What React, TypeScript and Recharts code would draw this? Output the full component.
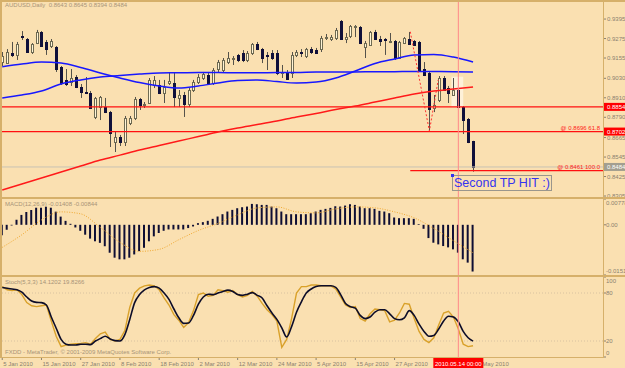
import { ComposedChart, Bar, Line, XAxis, YAxis, ReferenceLine, ReferenceArea } from 'recharts'

// AUDUSD daily, 5 Jan 2010 .. 19 May 2010 (bar index 0..96)
const opens = [
  0.9130, 0.9124, 0.9186, 0.9174, 0.9291, 0.9272, 0.9192, 0.9247, 0.9315, 0.9254,
  0.9229, 0.9223, 0.9100, 0.9020, 0.9007, 0.9038, 0.8976, 0.8946, 0.8939, 0.8792,
  0.8853, 0.8853, 0.8822, 0.8638, 0.8668, 0.8638, 0.8755, 0.8785, 0.8903, 0.8866,
  0.8878, 0.8989, 0.8989, 0.8939, 0.9001, 0.9001, 0.8909, 0.8927, 0.8872, 0.8958,
  0.9007, 0.9032, 0.9050, 0.9001, 0.9087, 0.9081, 0.9130, 0.9155, 0.9174, 0.9186,
  0.9143, 0.9186, 0.9241, 0.9210, 0.9174, 0.9186, 0.9186, 0.9063, 0.9069, 0.9063,
  0.9174, 0.9192, 0.9167, 0.9210, 0.9204, 0.9210, 0.9278, 0.9272, 0.9278, 0.9383,
  0.9272, 0.9291, 0.9346, 0.9346, 0.9223, 0.9235, 0.9315, 0.9272, 0.9272, 0.9260,
  0.9260, 0.9155, 0.9247, 0.9272, 0.9260, 0.9254, 0.9087, 0.9063, 0.8847, 0.8896,
  0.9032, 0.8970, 0.8927, 0.8958, 0.8853, 0.8779, 0.8643,
]
const highs = [
  0.9192, 0.9210, 0.9254, 0.9254, 0.9321, 0.9278, 0.9247, 0.9328, 0.9321, 0.9266,
  0.9272, 0.9229, 0.9106, 0.9087, 0.9087, 0.9050, 0.8995, 0.9038, 0.8952, 0.8915,
  0.8921, 0.8909, 0.8829, 0.8705, 0.8681, 0.8798, 0.8798, 0.8915, 0.8909, 0.8884,
  0.9032, 0.9044, 0.9020, 0.9020, 0.9063, 0.9063, 0.8958, 0.8946, 0.8970, 0.9020,
  0.9056, 0.9069, 0.9069, 0.9093, 0.9143, 0.9155, 0.9192, 0.9167, 0.9180, 0.9204,
  0.9198, 0.9247, 0.9254, 0.9217, 0.9192, 0.9204, 0.9204, 0.9112, 0.9081, 0.9192,
  0.9204, 0.9210, 0.9217, 0.9223, 0.9217, 0.9291, 0.9303, 0.9297, 0.9340, 0.9389,
  0.9309, 0.9358, 0.9358, 0.9352, 0.9260, 0.9321, 0.9328, 0.9291, 0.9278, 0.9309,
  0.9266, 0.9260, 0.9284, 0.9315, 0.9266, 0.9260, 0.9130, 0.9075, 0.8927, 0.9044,
  0.9044, 0.8983, 0.9032, 0.8970, 0.8859, 0.8785, 0.8645,
]
const lows = [
  0.9106, 0.9118, 0.9161, 0.9143, 0.9266, 0.9186, 0.9180, 0.9241, 0.9223, 0.9174,
  0.9217, 0.9069, 0.8989, 0.8983, 0.8983, 0.8970, 0.8909, 0.8933, 0.8841, 0.8779,
  0.8773, 0.8816, 0.8607, 0.8576, 0.8613, 0.8613, 0.8742, 0.8773, 0.8835, 0.8847,
  0.8872, 0.8970, 0.8933, 0.8878, 0.8989, 0.8853, 0.8853, 0.8792, 0.8853, 0.8946,
  0.8995, 0.9020, 0.8989, 0.8989, 0.9069, 0.9069, 0.9118, 0.9112, 0.9130, 0.9130,
  0.9130, 0.9174, 0.9204, 0.9124, 0.9081, 0.9143, 0.9050, 0.9032, 0.9020, 0.9032,
  0.9161, 0.9161, 0.9155, 0.9180, 0.9180, 0.9192, 0.9266, 0.9260, 0.9266, 0.9266,
  0.9247, 0.9278, 0.9284, 0.9241, 0.9155, 0.9229, 0.9266, 0.9229, 0.9174, 0.9247,
  0.9143, 0.9149, 0.9241, 0.9235, 0.9229, 0.9075, 0.9044, 0.8711, 0.8822, 0.8884,
  0.8958, 0.8878, 0.8921, 0.8853, 0.8687, 0.8631, 0.8455,
]
const closes = [
  0.9167, 0.9192, 0.9174, 0.9241, 0.9284, 0.9192, 0.9241, 0.9315, 0.9229, 0.9210,
  0.9260, 0.9087, 0.9001, 0.8995, 0.9032, 0.8976, 0.8946, 0.8939, 0.8847, 0.8909,
  0.8915, 0.8822, 0.8693, 0.8668, 0.8638, 0.8785, 0.8785, 0.8903, 0.8866, 0.8870,
  0.9020, 0.9020, 0.8939, 0.8976, 0.9013, 0.8915, 0.8927, 0.8872, 0.8958, 0.9007,
  0.9038, 0.9056, 0.9001, 0.9081, 0.9130, 0.9143, 0.9155, 0.9158, 0.9143, 0.9143,
  0.9186, 0.9241, 0.9210, 0.9155, 0.9167, 0.9155, 0.9063, 0.9066, 0.9026, 0.9174,
  0.9192, 0.9189, 0.9210, 0.9192, 0.9186, 0.9278, 0.9284, 0.9284, 0.9328, 0.9272,
  0.9284, 0.9352, 0.9352, 0.9247, 0.9247, 0.9315, 0.9272, 0.9260, 0.9266, 0.9262,
  0.9155, 0.9254, 0.9278, 0.9241, 0.9235, 0.9081, 0.9050, 0.8841, 0.8866, 0.9032,
  0.8958, 0.8939, 0.8958, 0.8853, 0.8773, 0.8638, 0.8484,
]

// moving averages, read every 4th bar
const maBars = [0, 4, 8, 12, 16, 20, 24, 28, 32, 36, 40, 44, 48, 52, 56, 60, 64, 68, 72, 76, 80, 84, 88, 92, 96]
const maFast = [
  0.9101, 0.9118, 0.9130, 0.9124, 0.9097, 0.9063, 0.9032, 0.9004, 0.8983, 0.8970, 0.8983, 0.9001, 0.9016,
  0.9020, 0.9010, 0.9001, 0.9007, 0.9032, 0.9075, 0.9121, 0.9149, 0.9174, 0.9177, 0.9161, 0.9130,
]
const maSlow = [
  0.8909, 0.8927, 0.8952, 0.8995, 0.9020, 0.9038, 0.9047, 0.9056, 0.9063, 0.9064, 0.9066, 0.9066, 0.9064,
  0.9064, 0.9066, 0.9066, 0.9069, 0.9069, 0.9069, 0.9071, 0.9071, 0.9072, 0.9072, 0.9071, 0.9069,
]
const maLong = [
  0.8342, 0.8379, 0.8416, 0.8453, 0.8490, 0.8527, 0.8557, 0.8588, 0.8616, 0.8644, 0.8671, 0.8699, 0.8724,
  0.8745, 0.8767, 0.8792, 0.8813, 0.8838, 0.8859, 0.8884, 0.8909, 0.8933, 0.8952, 0.8964, 0.8976,
]

// zigzag
const zzBars = [83.2, 87.1, 88.9]
const zzPrices = [0.9317, 0.8705, 0.9020]

// MACD(12,26,9)
const macd = [
  -0.00318, -0.00149, -0.0002, 0.00149, 0.00298, 0.00387, 0.00446, 0.00515, 0.00515, 0.00545,
  0.00515, 0.00396, 0.00247, 0.00119, 0.0003, -0.0008, -0.0018, -0.00298, -0.00416, -0.00497,
  -0.00544, -0.00646, -0.00842, -0.00991, -0.01041, -0.01041, -0.00991, -0.00893, -0.00794, -0.00693,
  -0.00497, -0.00348, -0.00247, -0.0018, -0.0014, -0.0014, -0.0014, -0.0014, -0.00098, -0.0005,
  0.0005, 0.0008, 0.0012, 0.0018, 0.0025, 0.0032, 0.004, 0.0045, 0.005, 0.0053,
  0.0055, 0.0063, 0.0062, 0.006, 0.006, 0.0055, 0.005, 0.004, 0.0032, 0.0032,
  0.0032, 0.0032, 0.0032, 0.0035, 0.004, 0.0045, 0.0048, 0.0051, 0.0056, 0.0055,
  0.0058, 0.0062, 0.006, 0.0055, 0.005, 0.005, 0.0048, 0.0042, 0.004, 0.0035,
  0.0022, 0.002, 0.002, 0.002, 0.0018, 0.0002, -0.0012, -0.004, -0.0054, -0.0059,
  -0.0064, -0.0068, -0.0074, -0.0084, -0.0104, -0.0114, -0.01408,
]
const macdSignal = [
  -0.0068, -0.003, 0.0015, 0.0039, 0.0033, -0.0008, -0.0053, -0.008, -0.0074, -0.0045, -0.0017, 0.0004, 0.003,
  0.0051, 0.0054, 0.0039, 0.0036, 0.0048, 0.0054, 0.0051, 0.0039, 0.0021, -0.0011, -0.0048, -0.00844,
]

// Stoch(5,3,3)
const stochK = [
  88, 84, 83, 84, 78, 68, 64, 63, 64, 65,
  45, 26, 13, 15, 16, 16.5, 17, 18, 16, 23,
  29, 31, 22, 20, 22, 33, 62, 80, 86, 89,
  90, 89, 84, 74, 65, 53, 46, 37, 43, 58,
  78, 80, 76, 77, 84, 83, 81, 83, 78, 75,
  77, 82, 76, 67, 59, 53, 45, 12, 22, 48,
  80, 88, 88, 90, 90, 89, 89, 89, 85, 75,
  65, 62, 63, 48, 45, 54, 60, 59, 58, 44,
  46, 55, 67, 66, 48, 32, 22, 18, 24, 40,
  55, 57, 50, 35, 16, 13, 14.12,
]
const stochD = [
  86.9, 86, 85, 84, 81, 75, 70, 68.3, 68, 65,
  50, 36, 22, 16, 15, 15, 16, 16, 15.5, 20,
  23, 26, 22.5, 20.5, 20, 28, 47, 68, 78, 84,
  87, 88, 86, 80, 72, 60, 49, 42, 42.5, 52,
  66, 75, 78.5, 78, 80, 82, 83.6, 82, 78, 77,
  78.5, 80.5, 77, 73.7, 64, 55, 47, 36.5, 25, 38,
  56, 69, 80, 85, 88, 89, 89, 89, 87, 78,
  67, 63, 61, 52, 48, 50, 56, 59, 59, 54,
  48, 46.5, 49, 58, 52, 41, 32, 26, 27, 35,
  45, 51, 50, 44, 32, 24, 19.83,
]

// the 7 May label sits fully under the red cursor label, so it is left out
const dateBars = [0, 8, 16, 24, 32, 40, 48, 56, 64, 72, 80, 96]
const dateLabels = [
  '5 Jan 2010', '15 Jan 2010', '27 Jan 2010', '8 Feb 2010', '18 Feb 2010', '2 Mar 2010', '12 Mar 2010',
  '24 Mar 2010', '5 Apr 2010', '15 Apr 2010', '27 Apr 2010', '19 May 2010',
]
const cursorBar = 93
const cursorLabel = '2010.05.14 00:00'

const priceTicks = [0.9395, 0.9275, 0.9155, 0.903, 0.891, 0.8854, 0.879, 0.8702, 0.8665, 0.8545, 0.8484, 0.8425, 0.8305]
const redPrices = [0.8854, 0.8702]
const bidPrice = 0.8484
const fibLevels = [0.8702, 0.8461]
const macdTicks = [0.00778, 0, -0.01513]
const stochTicks = [100, 80, 20, 0]

const X_DOMAIN: [number, number] = [-0.05, 122.5]
const FONT = '"Liberation Sans", Arial, sans-serif'
const BG = '#FAE0B1'
const FRAME = '#D6B06A'
const AXIS_TEXT = '#8A8070'
const LABEL_TEXT = '#A89478'

const mainRows = opens.map((o, i) => {
  const k = maBars.indexOf(i)
  return {
    i,
    open: o,
    high: highs[i],
    low: lows[i],
    close: closes[i],
    maFast: k >= 0 ? maFast[k] : null,
    maSlow: k >= 0 ? maSlow[k] : null,
    maLong: k >= 0 ? maLong[k] : null,
  }
})
const zzRows = zzBars.map((b, k) => ({ i: b, zz: zzPrices[k] }))
const macdRows = macd.map((m, i) => {
  const k = maBars.indexOf(i)
  return { i, macd: m, signal: k >= 0 ? macdSignal[k] : null }
})
const stochRows = stochK.map((k, i) => ({ i, k, d: stochD[i] }))

function Candle(props: any) {
  const { x, y, width, height, payload } = props
  if (x == null || !payload) return null
  const { open, close, high, low } = payload
  const cx = Math.round(x + width / 2)
  const top0 = Math.min(y, y + height)
  const h = Math.abs(height)
  const per = high - low > 0 ? h / (high - low) : 0
  const yO = top0 + (high - open) * per
  const yC = top0 + (high - close) * per
  const bTop = Math.round(Math.min(yO, yC)) + 0.5
  const bH = Math.max(Math.round(Math.abs(yO - yC)), 1)
  const bull = close >= open
  return (
    <g>
      <line x1={cx + 0.5} x2={cx + 0.5} y1={top0} y2={top0 + h} stroke="#55524A" strokeWidth={1} />
      <rect
        x={cx - 0.5}
        y={bTop}
        width={2}
        height={bH}
        fill={bull ? '#FFF4D6' : '#10103A'}
        stroke={bull ? '#6E6A52' : '#10103A'}
        strokeWidth={1}
      />
    </g>
  )
}

function PriceTick(props: any) {
  const { x, y, payload } = props
  const v = payload.value as number
  const red = redPrices.includes(v)
  const bid = v === bidPrice
  return (
    <g>
      {red || bid ? (
        <rect x={x} y={y - 4} width={22} height={8} fill={red ? '#FF0000' : '#A29E90'} />
      ) : (
        <line x1={x + 1} x2={x + 3} y1={y} y2={y} stroke={AXIS_TEXT} />
      )}
      <text x={x + 4} y={y + 2} fontSize={6} fontFamily={FONT} fill={red || bid ? '#FFFFFF' : AXIS_TEXT}>
        {v.toFixed(4)}
      </text>
    </g>
  )
}

function SideTick(props: any) {
  const { x, y, payload, fmt, top, bottom } = props
  const v = payload.value as number
  const dy = v === top ? 4 : v === bottom ? -4 : 0
  return (
    <g>
      <line x1={x + 1} x2={x + 3} y1={y} y2={y} stroke={AXIS_TEXT} />
      <text x={x + 3} y={y + 2 + dy} fontSize={6} fontFamily={FONT} fill={AXIS_TEXT}>
        {fmt(v)}
      </text>
    </g>
  )
}

function DateTick(props: any) {
  const { x, y, payload } = props
  const v = payload.value as number
  if (v === cursorBar) {
    return (
      <g>
        <rect x={x - 25} y={y + 1} width={50} height={10} fill="#FF0000" />
        <text x={x} y={y + 8.5} textAnchor="middle" fontSize={6} fontFamily={FONT} fill="#FFFFFF">
          {cursorLabel}
        </text>
      </g>
    )
  }
  const label = dateLabels[dateBars.indexOf(v)]
  return (
    <g>
      <line x1={x} x2={x} y1={y} y2={y + 3} stroke={AXIS_TEXT} />
      <text x={x + 1} y={y + 8.5} fontSize={6} fontFamily={FONT} fill={AXIS_TEXT}>
        {label}
      </text>
    </g>
  )
}

function FibLabel(props: any, text: string) {
  const { viewBox } = props
  if (!viewBox) return null
  return (
    <text x={600} y={viewBox.y - 1.5} textAnchor="end" fontSize={6} fontFamily={FONT} fill="#FF2020">
      {text}
    </text>
  )
}

const cursorLine = <ReferenceLine x={cursorBar} stroke="#FF8888" strokeWidth={1} />

export default function App() {
  const textStyle = { position: 'absolute' as const, fontFamily: FONT, fontSize: 6, color: LABEL_TEXT, whiteSpace: 'nowrap' as const }
  return (
    <div style={{ position: 'absolute', left: 0, top: 0, width: 625, height: 368, background: BG, overflow: 'hidden' }}>
      <div style={{ position: 'absolute', left: 0, top: 0 }}>
        <ComposedChart width={625} height={197} data={mainRows} margin={{ top: 2, right: 0, bottom: 0, left: 2 }}>
          <XAxis dataKey="i" type="number" domain={X_DOMAIN} hide allowDataOverflow />
          <YAxis
            orientation="right"
            width={22}
            domain={[0.8299, 0.95]}
            allowDataOverflow
            ticks={priceTicks}
            interval={0}
            tickSize={0}
            tickMargin={0}
            axisLine={false}
            tickLine={false}
            tick={(p: any) => <PriceTick {...p} />}
          />
          <ReferenceArea x1={91.6} x2={94} y1={0.8855} y2={0.904} fill="#FFF8EA" fillOpacity={0.7} stroke="none" />
          <ReferenceLine y={bidPrice} stroke="#C8C2B4" strokeWidth={1} />
          <ReferenceLine y={redPrices[0]} stroke="#FF1010" strokeWidth={1.2} />
          <ReferenceLine
            y={redPrices[1]}
            stroke="#FF1010"
            strokeWidth={1.2}
            label={(p: any) => FibLabel(p, '@ 0.8696 61.8')}
          />
          <ReferenceLine
            segment={[{ x: 83.2, y: fibLevels[1] }, { x: 122.5, y: fibLevels[1] }]}
            stroke="#FF1010"
            strokeWidth={1.2}
            label={(p: any) => FibLabel(p, '@ 0.8461 100.0')}
          />
          <Line dataKey="maSlow" type="monotone" stroke="#1818FF" strokeWidth={1.5} dot={false} connectNulls isAnimationActive={false} />
          <Line dataKey="maFast" type="monotone" stroke="#1818FF" strokeWidth={1.5} dot={false} connectNulls isAnimationActive={false} />
          <Line dataKey="maLong" type="monotone" stroke="#FF1A1A" strokeWidth={1.5} dot={false} connectNulls isAnimationActive={false} />
          <Bar dataKey={(d: any) => [d.low, d.high]} barSize={3} shape={(p: any) => <Candle {...p} />} isAnimationActive={false} />
          <Line data={zzRows} dataKey="zz" type="linear" stroke="#FF3030" strokeWidth={1} strokeDasharray="2 2" dot={false} isAnimationActive={false} />
          {cursorLine}
        </ComposedChart>
      </div>

      <div style={{ position: 'absolute', left: 0, top: 199 }}>
        <ComposedChart width={625} height={76} data={macdRows} margin={{ top: 0, right: 0, bottom: 0, left: 2 }}>
          <XAxis dataKey="i" type="number" domain={X_DOMAIN} hide allowDataOverflow />
          <YAxis
            orientation="right"
            width={22}
            domain={[-0.01513, 0.00778]}
            allowDataOverflow
            ticks={macdTicks}
            interval={0}
            tickSize={0}
            tickMargin={0}
            axisLine={false}
            tickLine={false}
            tick={(p: any) => (
              <SideTick {...p} top={0.00778} bottom={-0.01513} fmt={(v: number) => (v === 0 ? '0.00' : v.toFixed(5))} />
            )}
          />
          <Bar dataKey="macd" barSize={2} fill="#0E0E34" isAnimationActive={false} />
          <Line dataKey="signal" type="monotone" stroke="#F0A830" strokeWidth={1} strokeDasharray="1 1.5" dot={false} connectNulls isAnimationActive={false} />
          {cursorLine}
        </ComposedChart>
      </div>

      <div style={{ position: 'absolute', left: 0, top: 277 }}>
        <ComposedChart width={625} height={91} data={stochRows} margin={{ top: 0, right: 0, bottom: 0, left: 2 }}>
          <XAxis
            dataKey="i"
            type="number"
            domain={X_DOMAIN}
            allowDataOverflow
            height={11}
            ticks={[...dateBars, cursorBar]}
            interval={0}
            tickSize={0}
            tickMargin={0}
            axisLine={false}
            tickLine={false}
            tick={(p: any) => <DateTick {...p} />}
          />
          <YAxis
            orientation="right"
            width={22}
            domain={[0, 100]}
            allowDataOverflow
            ticks={stochTicks}
            interval={0}
            tickSize={0}
            tickMargin={0}
            axisLine={false}
            tickLine={false}
            tick={(p: any) => <SideTick {...p} top={100} bottom={0} fmt={(v: number) => String(v)} />}
          />
          <ReferenceLine y={80} stroke="#D8C2A0" strokeDasharray="1 2" />
          <ReferenceLine y={20} stroke="#D8C2A0" strokeDasharray="1 2" />
          <Line dataKey="k" type="linear" stroke="#D9A12A" strokeWidth={1.4} dot={false} isAnimationActive={false} />
          <Line dataKey="d" type="monotone" stroke="#0C0C28" strokeWidth={1.6} dot={false} isAnimationActive={false} />
          {cursorLine}
        </ComposedChart>
      </div>

      {/* frame */}
      <div style={{ position: 'absolute', left: 0, top: 0, width: 625, height: 2, background: FRAME }} />
      <div style={{ position: 'absolute', left: 0, top: 0, width: 2, height: 358, background: FRAME }} />
      <div style={{ position: 'absolute', left: 603, top: 0, width: 1, height: 358, background: FRAME }} />
      <div style={{ position: 'absolute', left: 0, top: 197, width: 625, height: 2, background: FRAME }} />
      <div style={{ position: 'absolute', left: 0, top: 275, width: 625, height: 2, background: FRAME }} />
      <div style={{ position: 'absolute', left: 0, top: 357, width: 604, height: 1, background: FRAME }} />

      <div style={{ ...textStyle, left: 5, top: 2 }}>AUDUSD,Daily&nbsp; 0.8643 0.8645 0.8394 0.8484</div>
      <div style={{ ...textStyle, left: 5, top: 201 }}>MACD(12,26,9) -0.01408 -0.00844</div>
      <div style={{ ...textStyle, left: 5, top: 279 }}>Stoch(5,3,3) 14.1202 19.8266</div>
      <div style={{ ...textStyle, left: 5, top: 349 }}>FXDD - MetaTrader, © 2001-2009 MetaQuotes Software Corp.</div>

      <div
        style={{
          position: 'absolute',
          left: 452,
          top: 175,
          width: 97,
          height: 14,
          border: '1px solid #9A968C',
          color: '#3434F0',
          fontFamily: FONT,
          fontSize: 12.5,
          lineHeight: '14px',
          paddingLeft: 1,
          whiteSpace: 'nowrap',
        }}
      >
        Second TP HIT :)
      </div>
      <div style={{ position: 'absolute', left: 451, top: 174, width: 3, height: 3, background: '#3434F0' }} />
    </div>
  )
}
